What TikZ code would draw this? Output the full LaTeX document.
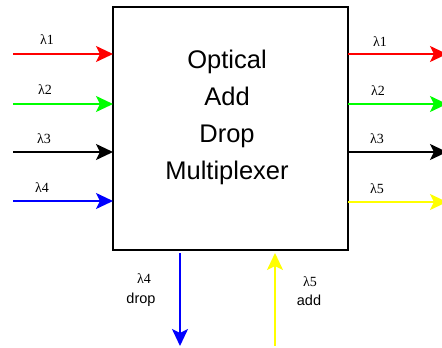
\documentclass[tikz,border=0pt]{standalone}
\usepackage{fontspec}
\setmainfont{Liberation Sans}
\newfontfamily\lamfont{Liberation Serif}
\usetikzlibrary{positioning,arrows.meta}
\definecolor{lred}{HTML}{FF0000}
\definecolor{lgreen}{HTML}{00FF00}
\definecolor{lblue}{HTML}{0000FF}
\definecolor{lyellow}{HTML}{FFFF00}

\begin{document}
\begin{tikzpicture}[
  x=1pt, y=-1pt,
  mux/.style={draw=black, line width=2.2pt, fill=white, minimum width=235pt, minimum height=243pt, inner sep=0pt, outer sep=0pt},
  wl/.style={line width=2pt, -{Stealth[length=17pt, width=16pt, inset=4pt]}},
  lam/.style={font=\lamfont\fontsize{14}{16}\selectfont, anchor=base, inner sep=0pt},
  note/.style={font=\fontsize{14.5}{17}\selectfont, anchor=base, inner sep=0pt}
]
  \useasboundingbox (0,0) rectangle (442,348);

  % OADM box
  \node[mux] (mux) at (230.5,128.5) {};
  \node[align=center, inner sep=0pt, font=\fontsize{25.5}{37}\selectfont] (title) at (227,117) {Optical\\Add\\Drop\\Multiplexer};

  % Inputs
  \coordinate (in1) at (13,54);
  \coordinate (in2) at (13,104);
  \coordinate (in3) at (13,152);
  \coordinate (in4) at (13,201);
  \draw[wl, lred] (in1) -- (in1 -| mux.west);
  \draw[wl, lgreen] (in2) -- (in2 -| mux.west);
  \draw[wl, black] (in3) -- (in3 -| mux.west);
  \draw[wl, lblue] (in4) -- (in4 -| mux.west);
  \node[lam] (li1) at (47,45) {λ1};
  \node[lam] (li2) at (45,94) {λ2};
  \node[lam] (li3) at (44,143) {λ3};
  \node[lam] (li4) at (42,192) {λ4};

  % Outputs
  \coordinate (out1) at (447,54);
  \coordinate (out2) at (447,104);
  \coordinate (out3) at (447,152);
  \coordinate (out5) at (447,202);
  \draw[wl, lred] (out1 -| mux.east) -- (out1);
  \draw[wl, lgreen] (out2 -| mux.east) -- (out2);
  \draw[wl, black] (out3 -| mux.east) -- (out3);
  \draw[wl, lyellow] (out5 -| mux.east) -- (out5);
  \node[lam] (lo1) at (380,46) {λ1};
  \node[lam] (lo2) at (378,95) {λ2};
  \node[lam] (lo3) at (377,143) {λ3};
  \node[lam] (lo5) at (377,193) {λ5};

  % Drop and add
  \coordinate (drop) at (180,346);
  \coordinate (add) at (275,346);
  \draw[wl, lblue] (drop |- mux.south) ++(0,3) -- (drop);
  \draw[wl, lyellow] (add) -- ([yshift=-3pt]add |- mux.south);
  \node[lam] (ld) at (144,283) {λ4};
  \node[note] (drop lbl) at (141,303) {drop};
  \node[lam] (la) at (310,286) {λ5};
  \node[note] (add lbl) at (309,305) {add};
\end{tikzpicture}
\end{document}
